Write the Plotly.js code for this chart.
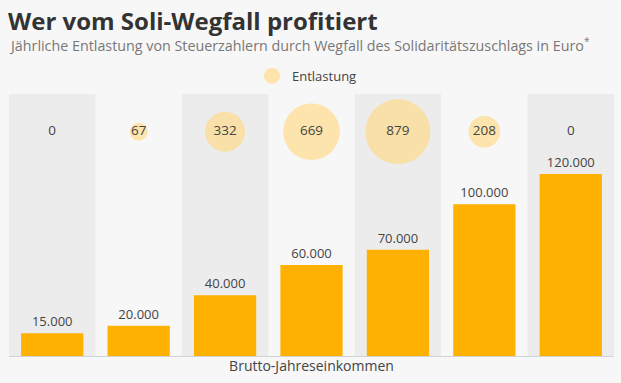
<!DOCTYPE html>
<html>
<head>
<meta charset="utf-8">
<script src="https://cdn.plot.ly/plotly-3.0.1.min.js"></script>
<style>html,body{margin:0;padding:0;background:#f7f7f7;}#chart{width:621px;height:383px;}</style>
</head>
<body>
<div id="chart"></div>
<script>
// Data
const categories = ['15.000', '20.000', '40.000', '60.000', '70.000', '100.000', '120.000'];
const income = [15000, 20000, 40000, 60000, 70000, 100000, 120000];
const relief = [0, 67, 332, 669, 879, 208, 0];
const reliefName = 'Entlastung';
const chartTitle = 'Wer vom Soli-Wegfall profitiert';
const chartSubtitle = 'Jährliche Entlastung von Steuerzahlern durch Wegfall des Solidaritätszuschlags in Euro<sup>*</sup>';
const xTitle = 'Brutto-Jahreseinkommen';

const FONT = 'Open Sans, Noto Sans, sans-serif';
const TXT = '#444444';

const bars = {
  type: 'bar',
  x: categories,
  y: income,
  marker: {color: '#feb100'},
  texttemplate: '%{y:,}',
  textposition: 'outside',
  cliponaxis: false,
  textfont: {family: FONT, size: 13, color: TXT},
  showlegend: false,
  hoverinfo: 'skip'
};

const bubbles = {
  type: 'scatter',
  mode: 'markers+text',
  name: reliefName,
  x: categories,
  y: relief.map(() => 0),
  yaxis: 'y2',
  text: relief.map(String),
  textposition: 'middle center',
  textfont: {family: FONT, size: 13.5, color: TXT},
  marker: {
    size: relief,
    sizemode: 'area',
    sizeref: 0.417,
    sizemin: 0,
    color: '#fddb8b',
    line: {width: 0}
  },
  cliponaxis: false,
  hoverinfo: 'skip'
};

const shapes = categories.map((c, i) => i % 2 === 0 ? {
  type: 'rect', xref: 'x', yref: 'paper',
  x0: i - 0.5, x1: i + 0.5, y0: 0, y1: 1,
  fillcolor: '#ececec', line: {width: 0}, layer: 'below'
} : null).filter(Boolean);

const layout = {
  width: 621, height: 383,
  paper_bgcolor: '#f7f7f7',
  plot_bgcolor: 'rgba(0,0,0,0)',
  margin: {l: 9, r: 7, t: 94, b: 27},
  separators: ',.',
  font: {family: FONT, color: TXT},
  title: {
    text: '<b>' + chartTitle + '</b>',
    font: {family: FONT, size: 24, color: '#333333'},
    xref: 'container', x: 8 / 621, xanchor: 'left',
    yref: 'container', y: 1 - 22 / 383, yanchor: 'middle'
  },
  annotations: [{
    text: chartSubtitle,
    xref: 'paper', yref: 'paper', x: -0.004, y: 1 + (94 - 44) / 262,
    xanchor: 'left', yanchor: 'middle', showarrow: false,
    font: {family: FONT, size: 14.3, color: '#787878'}
  }],
  bargap: 0.28,
  xaxis: {
    type: 'category', range: [-0.5, 6.5], fixedrange: true,
    showticklabels: false, ticks: '', showgrid: false, zeroline: false,
    showline: true, linecolor: '#d4d4d4', linewidth: 1,
    title: {text: xTitle, font: {family: FONT, size: 14, color: TXT}, standoff: 5}
  },
  yaxis: {
    range: [0, 172700], showticklabels: false, showgrid: false,
    zeroline: false, ticks: '', fixedrange: true
  },
  yaxis2: {
    overlaying: 'y', range: [-0.856, 0.144], visible: false, fixedrange: true
  },
  showlegend: true,
  legend: {
    orientation: 'h', x: (252 - 9) / 605, xanchor: 'left',
    y: 1 + 18 / 262, yanchor: 'middle',
    bgcolor: 'rgba(0,0,0,0)',
    font: {family: FONT, size: 13, color: TXT}
  },
  shapes: shapes
};

Plotly.newPlot('chart', [bars, bubbles], layout, {staticPlot: true, displayModeBar: false});
</script>
</body>
</html>
